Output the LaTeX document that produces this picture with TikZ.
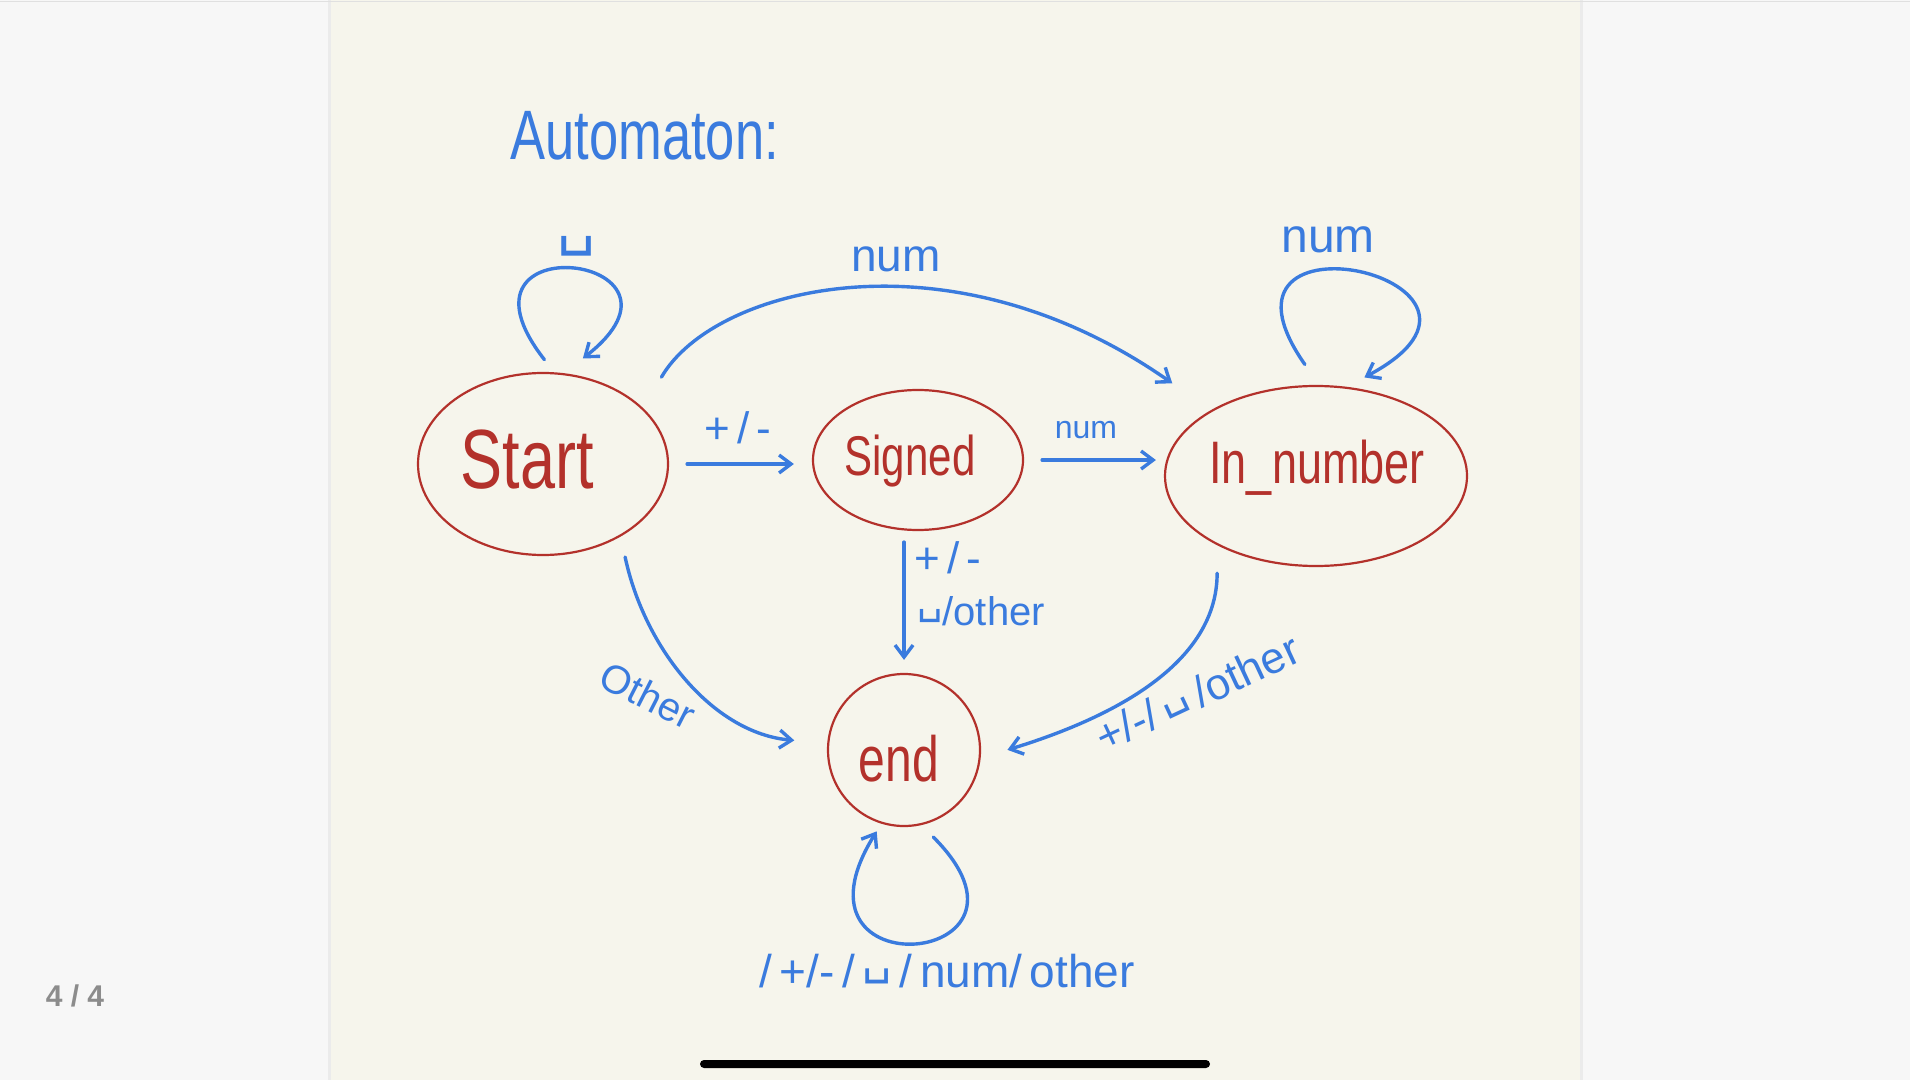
\documentclass[tikz,border=0pt]{standalone}
\usepackage{fontspec}
\setmainfont{Liberation Sans}
\newfontfamily\handfont[FakeStretch=0.75]{Liberation Sans}
\newfontfamily\symfont{DejaVu Sans}
\usetikzlibrary{shapes.geometric,arrows.meta}
\definecolor{ink}{HTML}{3A7BDE}
\definecolor{redink}{HTML}{B3312B}
\definecolor{paper}{HTML}{F6F5EC}
\definecolor{screen}{HTML}{F7F7F7}
\newcommand\vsp{\raisebox{.3em}{\symfont ␣}}
\tikzset{
  state/.style={ellipse, draw=redink, line width=1.1pt, inner sep=0pt},
  statename/.style={text=redink, anchor=base, inner sep=0pt,
    font=\handfont\fontsize{#1pt}{#1pt}\selectfont},
  tlabel/.style={text=ink, inner sep=0pt, font=\fontsize{#1pt}{#1pt}\selectfont},
  trans/.style={draw=ink, line width=1.7pt, line cap=round, line join=round,
    -{Straight Barb[length=6pt,width=9pt]}},
}

\begin{document}
\begin{tikzpicture}[x=0.5pt, y=-0.5pt]
  \useasboundingbox (0,0) rectangle (1910,1080);
  % screen and page
  \fill[screen] (0,0) rectangle (1910,1080);
  \fill[paper] (329,0) rectangle (1581,1080);
  \draw[black!8, line width=1.5pt] (329,0) -- (329,1080);
  \draw[black!8, line width=1.5pt] (1581,0) -- (1581,1080);
  \draw[black!12] (0,1) -- (1910,1);
  \node[text=black!45, font=\bfseries\fontsize{15pt}{15pt}\selectfont] (page) at (75,996) {4 / 4};
  \fill[rounded corners=2pt] (700,1060) rectangle (1210,1068);

  \node[text=ink, anchor=base west, inner sep=0pt,
    font=\handfont\fontsize{35pt}{35pt}\selectfont] (title) at (510,160) {Automaton:};

  % states
  \node[state, minimum width=125pt, minimum height=91pt] (start) at (543,464) {};
  \node[state, minimum width=105pt, minimum height=70pt] (signed) at (918,460) {};
  \node[state, minimum width=151pt, minimum height=90pt] (innum) at (1316,476) {};
  \node[state, circle, minimum size=76pt] (end) at (904,750) {};
  \node[statename=42] (start-t) at (527,488) {Start};
  \node[statename=28] (signed-t) at (910,475) {Signed};
  \node[statename=30] (innum-t) at (1317,483) {In\_number};
  \node[statename=32] (end-t) at (899,781) {end};

  % transitions
  \draw[trans, shorten <=9pt, shorten >=9pt] (start.east) -- (start.east -| signed.west);
  \draw[trans, shorten <=9pt, shorten >=4pt] (signed.east) -- (signed.east -| innum.west);
  \draw[trans, shorten <=18pt, shorten >=23.5pt] (start.29)
    to[out=60, in=145, out distance=70pt, in distance=160pt] (innum.148);
  \draw[trans, shorten <=5.5pt, shorten >=6.5pt] (signed.south -| end.north) -- (end.north);
  \draw[trans, shorten <=10.5pt, shorten >=16.5pt] (start.-43) to[out=-78, in=175] (end.175);
  \draw[trans, shorten <=14pt, shorten >=14pt] (innum.215) to[out=270, in=17] (end.-6);
  % loops
  \draw[trans, shorten <=8pt, shorten >=12pt] (start.83) to[out=128, in=38, min distance=96pt] (start.77);
  \draw[trans, shorten <=12.5pt, shorten >=10pt] (innum.88) to[out=125, in=28, min distance=114pt] (innum.71);
  \draw[trans, shorten <=8.5pt, shorten >=4.5pt] (end.-77) to[out=-45, in=238, min distance=100pt] (end.-107);

  % labels
  \node[tlabel=30] (l-blank) at (577,248) {\vsp};
  \node[tlabel=23, anchor=base] (l-num1) at (896,272) {num};
  \node[tlabel=24, anchor=base] (l-num2) at (1328,253) {num};
  \node[tlabel=22] (l-sign1) at (738,428) {+\,/\,-};
  \node[tlabel=16, anchor=base] (l-num3) at (1086,438) {num};
  \node[tlabel=22] (l-sign2) at (948,558) {+\,/\,-};
  \node[tlabel=20, anchor=base] (l-other1) at (981,625) {\vsp/other};
  \node[tlabel=20, rotate=-27] (l-other2) at (648,695) {Other};
  \node[tlabel=22, rotate=25] (l-other3) at (1197,693) {+/-/\,\vsp\,/other};
  \node[tlabel=23, anchor=base] (l-all) at (947,987) {/\,+/-\,/\,\vsp\,/\,num/\,other};
\end{tikzpicture}
\end{document}
